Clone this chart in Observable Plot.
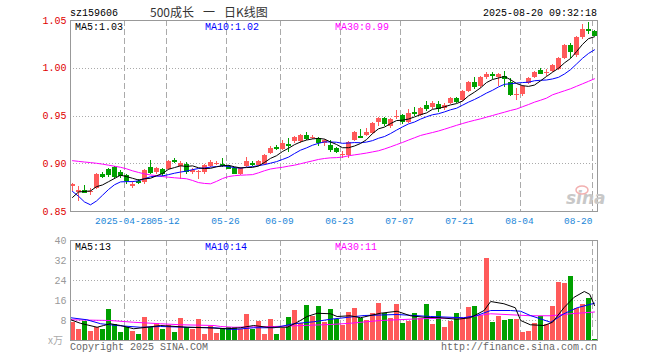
<!DOCTYPE html>
<html><head><meta charset="utf-8">
<script src="https://cdn.jsdelivr.net/npm/d3@7"></script>
<script src="https://cdn.jsdelivr.net/npm/@observablehq/plot@0.6"></script>
<style>
html,body{margin:0;padding:0;background:#fff;}
#wrap{position:relative;width:660px;height:360px;overflow:hidden;}
#wrap svg{position:absolute;left:0;}
</style></head><body><div id="wrap"></div>
<script>
// ---- data ----
const dates = ["2025-04-15","2025-04-16","2025-04-17","2025-04-18","2025-04-21","2025-04-22","2025-04-23","2025-04-24","2025-04-25","2025-04-28","2025-04-29","2025-04-30",
"2025-05-06","2025-05-07","2025-05-08","2025-05-09","2025-05-12","2025-05-13","2025-05-14","2025-05-15","2025-05-16","2025-05-19","2025-05-20","2025-05-21","2025-05-22","2025-05-23","2025-05-26","2025-05-27","2025-05-28","2025-05-29","2025-05-30",
"2025-06-03","2025-06-04","2025-06-05","2025-06-06","2025-06-09","2025-06-10","2025-06-11","2025-06-12","2025-06-13","2025-06-16","2025-06-17","2025-06-18","2025-06-19","2025-06-20","2025-06-23","2025-06-24","2025-06-25","2025-06-26","2025-06-27","2025-06-30",
"2025-07-01","2025-07-02","2025-07-03","2025-07-04","2025-07-07","2025-07-08","2025-07-09","2025-07-10","2025-07-11","2025-07-14","2025-07-15","2025-07-16","2025-07-17","2025-07-18","2025-07-21","2025-07-22","2025-07-23","2025-07-24","2025-07-25","2025-07-28","2025-07-29","2025-07-30","2025-07-31",
"2025-08-01","2025-08-04","2025-08-05","2025-08-06","2025-08-07","2025-08-08","2025-08-11","2025-08-12","2025-08-13","2025-08-14","2025-08-15","2025-08-18","2025-08-19","2025-08-20"];
const open = [.876,.870,.872,.870,.874,.889,.894,.896,.891,.888,.876,.881,.880,.896,.891,.894,.894,.903,.897,.899,.891,.891,.891,.897,.899,.899,.897,.895,.889,.897,.900,.898,.899,.911,.917,.915,.920,.923,.923,.930,.926,.926,.921,.919,.916,.909,.909,.924,.929,.930,.932,.943,.947,.939,.948,.951,.943,.954,.951,.961,.959,.962,.958,.963,.968,.966,.976,.985,.981,.990,.993,.990,.991,.985,.972,.972,.984,.990,.998,.995,.997,.999,1.010,1.024,1.013,1.032,1.041,1.039];
const high = [.879,.876,.877,.874,.890,.891,.895,.897,.893,.889,.881,.883,.894,.903,.896,.895,.903,.905,.902,.901,.895,.893,.899,.903,.902,.905,.898,.896,.896,.907,.902,.903,.910,.918,.919,.924,.926,.929,.931,.933,.930,.927,.925,.924,.917,.913,.923,.934,.936,.937,.943,.948,.948,.947,.956,.952,.957,.959,.959,.965,.965,.965,.963,.969,.969,.977,.986,.990,.991,.996,.996,.994,.997,.989,.979,.982,.990,.997,1.000,.999,1.004,1.011,1.025,1.026,1.033,1.046,1.048,1.040];
const low = [.871,.860,.869,.867,.873,.885,.886,.884,.885,.878,.874,.878,.878,.889,.889,.887,.893,.900,.884,.889,.889,.884,.889,.896,.898,.896,.894,.889,.888,.896,.897,.897,.898,.910,.914,.914,.912,.921,.921,.924,.925,.918,.918,.912,.911,.905,.906,.923,.927,.929,.931,.939,.939,.937,.946,.941,.942,.949,.950,.955,.957,.954,.956,.962,.963,.965,.975,.978,.979,.988,.988,.981,.980,.970,.966,.970,.983,.989,.993,.991,.996,.998,1.009,1.010,1.011,1.030,1.035,1.033];
const close = [.878,.872,.870,.871,.889,.887,.889,.887,.888,.882,.878,.880,.893,.891,.895,.890,.902,.902,.900,.892,.893,.892,.898,.901,.900,.898,.895,.890,.895,.902,.899,.902,.909,.916,.916,.921,.919,.928,.930,.926,.927,.922,.924,.915,.913,.910,.922,.933,.928,.933,.942,.947,.942,.946,.949,.944,.953,.953,.958,.958,.963,.958,.961,.968,.965,.976,.985,.981,.990,.993,.992,.993,.989,.973,.973,.981,.989,.996,.995,.996,1.003,1.010,1.024,1.018,1.032,1.041,1.040,1.034];
const ma5 = [.8647,.8704,.8710,.8715,.8760,.8778,.8812,.8846,.8880,.8866,.8848,.8830,.8842,.8848,.8874,.8898,.8942,.8960,.8978,.8972,.8978,.8958,.8950,.8952,.8968,.8978,.8984,.8968,.8956,.8960,.8962,.8976,.9014,.9056,.9084,.9128,.9162,.9200,.9228,.9248,.9260,.9266,.9258,.9228,.9202,.9168,.9168,.9186,.9212,.9252,.9316,.9366,.9384,.9420,.9452,.9456,.9468,.9490,.9514,.9532,.9570,.9580,.9596,.9616,.9630,.9656,.9710,.9750,.9794,.9850,.9882,.9898,.9914,.9880,.9840,.9818,.9810,.9824,.9868,.9914,.9958,1.0000,1.0056,1.0102,1.0174,1.0250,1.0310,1.0330];
const ma10 = [.871,.866,.860,.857,.861,.867,.873,.878,.881,.8813,.8813,.8821,.8844,.8864,.8870,.8873,.8886,.8901,.8913,.8923,.8938,.8950,.8955,.8965,.8970,.8978,.8971,.8959,.8954,.8964,.8970,.8980,.8991,.9006,.9022,.9045,.9069,.9107,.9142,.9166,.9194,.9214,.9229,.9228,.9225,.9214,.9217,.9222,.9220,.9227,.9242,.9267,.9285,.9316,.9352,.9386,.9417,.9437,.9467,.9492,.9513,.9524,.9543,.9565,.9581,.9613,.9645,.9673,.9705,.9740,.9769,.9804,.9832,.9837,.9845,.9850,.9854,.9869,.9874,.9877,.9888,.9905,.9940,.9985,1.0044,1.0104,1.0155,1.0193];
const ma30 = [.9032,.9025,.9018,.9012,.9005,.8996,.8985,.8974,.8963,.8947,.8926,.8909,.8894,.8883,.8875,.8866,.8859,.8853,.8848,.8843,.8825,.8803,.8794,.8790,.8815,.8845,.8866,.8875,.8880,.8883,.8886,.8905,.8927,.8945,.8955,.8963,.8975,.8985,.9000,.9015,.9030,.9045,.9055,.9062,.9064,.9070,.9083,.9093,.9102,.9112,.9124,.9136,.9155,.9177,.9200,.9223,.9248,.9272,.9296,.9312,.9327,.9343,.9362,.9382,.9402,.9421,.9439,.9455,.9470,.9488,.9505,.9523,.9540,.9558,.9573,.9597,.9620,.9645,.9665,.9687,.9722,.9743,.9764,.9785,.9811,.9837,.9863,.9890];
// volume, in units of 10k
const volume = [7.3,4.3,7.7,3.7,5.3,4.5,12.5,6.4,3.2,5.3,3.7,2.4,9.3,5.3,6.9,4.5,6.1,3.2,8.8,5.3,4.5,8.3,2.4,5.6,2.9,4.5,5.1,5.1,4.3,10.5,4.5,7.7,2.5,8.5,2.5,4.8,9.3,12.1,6.9,14.1,9.7,13.7,7.3,12.5,8.5,6.1,11.2,12.8,8.8,8.0,10.9,14.9,10.7,8.8,14.4,6.9,7.7,10.7,8.8,14.4,6.4,11.7,5.3,7.7,10.9,8.8,13.3,13.6,9.9,32.8,7.2,9.6,8.0,8.3,8.5,3.2,3.7,6.7,9.6,6.4,13.6,23.2,22.9,25.6,12.8,14.4,16.8,0.5];
// volume moving averages, read at positions (candle index) along the lines
const vma5x = [-0.3,1.3,4.1,5.2,6.3,8,10.2,12.4,14.7,19.1,22.4,25.8,28,30.2,32.4,35.8,37.4,39.1,40.8,43,44.1,46.3,48,51.3,54.1,56.3,58.6,61.3,64.1,66.3,68.6,69.7,71.9,73.8,74.7,76.3,78.6,80,81.9,83.6,85.3,86.2,87];
const vma5y = [8.3,6.9,5.3,6.0,6.7,6.0,4.7,5.3,6.0,5.3,5.1,4.7,5.1,6.0,5.3,5.3,7.2,9.6,10.9,10.7,9.6,9.9,9.1,10.9,11.7,9.9,9.3,9.1,8.5,9.1,12.0,15.6,14.7,13.1,8.0,6.3,6.0,7.3,13.1,17.3,19.6,18.5,14.0];
const vma10x = [-0.3,2.4,4.7,7.4,11.3,14.7,19.1,23.6,26.9,30.2,33.6,36.9,40.2,43,48.6,54.1,59.7,65.2,67.4,69.7,73,74.7,76.3,79.7,81.9,84.1,87];
const vma10y = [9.1,8.3,6.7,6.0,5.3,5.6,5.3,5.1,4.4,5.1,5.1,6.7,7.5,8.5,10.0,10.4,9.6,9.1,10.0,12.0,12.0,11.7,10.0,7.3,10.7,13.1,14.9];
const vma30x = [-0.3,6.3,10.2,14.7,18,23.6,24.7,26.9,33.6,43,46.3,51.3,58,65.2,69.7,76.3,79.7,83,87];
const vma30y = [8.3,8.0,7.3,6.7,6.3,6.0,5.6,5.3,5.6,6.4,6.9,8.0,8.7,9.1,10.7,9.9,9.9,10.7,11.4];
const tickIdx = [9,16,26,35,45,55,65,75,87];
const tickLabels = ["2025-04-28","05-12","05-26","06-09","06-23","07-07","07-21","08-04","08-20"];
const priceTicks = [0.85,0.90,0.95,1.00,1.05];
const volTicks = [8,16,24,32,40];
const lastVolMA = {ma5:13, ma10:14, ma30:11};

// ---- build ----
const RED = "#ff5a5a", GREEN = "#00a000", BLUE = "#0000ff", MAG = "#ff00ff", GRID = "#aaaaaa", FRAME = "#999999";
const MONO = "'Liberation Mono','DejaVu Sans Mono',monospace";
const rows = dates.map((d, i) => ({i, date: d, o: open[i], h: high[i], l: low[i], c: close[i], v: volume[i], col: close[i] >= open[i] ? RED : GREEN}));
const hw = 2.5 / 6;
const xOpt = {type: "linear", domain: [-1/3, 87.5], axis: null};
const gridX = tickIdx.map(i => i - 1/3);
const crisp = {shapeRendering: "crispEdges"};
const pts = (xs, ys) => xs.map((x, k) => ({x, y: ys[k]}));
const lastT = tickIdx.length - 1;

const main = Plot.plot({
  width: 660, height: 230, marginTop: 20, marginBottom: 19, marginLeft: 70, marginRight: 63,
  style: {fontFamily: MONO, fontSize: "10px", background: "transparent", overflow: "visible"},
  x: xOpt,
  y: {domain: [0.85, 1.05], ticks: priceTicks, tickFormat: d3.format(".2f"), tickSize: 0, tickPadding: 4, label: null},
  color: {type: "identity"},
  marks: [
    Plot.ruleY([0.90, 0.95, 1.00], {stroke: GRID, strokeDasharray: "1,2", ...crisp}),
    Plot.ruleX(gridX, {stroke: GRID, strokeDasharray: "6,3", ...crisp}),
    Plot.axisY({ticks: priceTicks, tickFormat: d3.format(".2f"), tickSize: 0, tickPadding: 4, fill: "#e00000", label: null}),
    Plot.text(tickIdx.slice(0, lastT), {x: d => d - 1/3, text: (d, k) => tickLabels[k], frameAnchor: "bottom", lineAnchor: "top", dy: 6, dx: -1, fontSize: 9.5, fill: "#1a86d8"}),
    Plot.text([tickIdx[lastT]], {x: d => d, text: () => tickLabels[lastT], frameAnchor: "bottom", lineAnchor: "top", dy: 6, dx: -2, fontSize: 9.5, textAnchor: "end", fill: "#1a86d8"}),
    Plot.ruleX(rows, {x: "i", y1: "l", y2: "h", stroke: "col", ...crisp}),
    Plot.rect(rows, {x1: d => d.i - hw, x2: d => d.i + hw, y1: "o", y2: "c", fill: "col", ...crisp}),
    Plot.ruleY(rows, {y: "c", x1: d => d.i - hw, x2: d => d.i + hw, stroke: "col", ...crisp}),
    Plot.line(rows, {x: "i", y: d => ma30[d.i], stroke: MAG, strokeWidth: 1}),
    Plot.line(rows, {x: "i", y: d => ma10[d.i], stroke: BLUE, strokeWidth: 1}),
    Plot.line(rows, {x: "i", y: d => ma5[d.i], stroke: "#000", strokeWidth: 1}),
    Plot.frame({stroke: FRAME, ...crisp})
  ]
});
main.style.top = "0px";

const vol = Plot.plot({
  width: 660, height: 120, marginTop: 10, marginBottom: 10, marginLeft: 70, marginRight: 63,
  style: {fontFamily: MONO, fontSize: "10px", background: "transparent", overflow: "visible"},
  x: xOpt,
  y: {domain: [0, 40], axis: null},
  color: {type: "identity"},
  marks: [
    Plot.ruleY([8, 16, 24, 32], {stroke: GRID, strokeDasharray: "1,2", ...crisp}),
    Plot.ruleX(gridX, {stroke: GRID, strokeDasharray: "6,3", ...crisp}),
    Plot.axisY({ticks: volTicks, tickSize: 0, tickPadding: 4, fill: "#999", label: null}),
    Plot.rect(rows, {x1: d => d.i - hw, x2: d => d.i + hw, y1: 0, y2: "v", fill: "col", ...crisp}),
    Plot.line(pts(vma30x, vma30y), {x: "x", y: "y", stroke: MAG, strokeWidth: 1}),
    Plot.line(pts(vma10x, vma10y), {x: "x", y: "y", stroke: BLUE, strokeWidth: 1}),
    Plot.line(pts(vma5x, vma5y), {x: "x", y: "y", stroke: "#000", strokeWidth: 1}),
    Plot.frame({stroke: FRAME, ...crisp})
  ]
});
vol.style.top = "230px";

const wrap = document.getElementById("wrap");
wrap.appendChild(main);
wrap.appendChild(vol);

// ---- overlay texts ----
const ov = d3.select(wrap).append("svg").attr("width", 660).attr("height", 360).style("top", "0px")
  .attr("font-family", MONO).attr("font-size", 10);
const T = (x, y, s, fill, extra = {}) => {
  const t = ov.append("text").attr("x", x).attr("y", y).attr("fill", fill).text(s);
  for (const k in extra) t.attr(k, extra[k]);
  return t;
};
const CJK = {"font-family": "'Noto Sans CJK SC',sans-serif", "font-size": 12};
T(70, 16, "sz159606", "#000");
T(150, 17, "500成长", "#333", CJK);
T(203, 17, "一", "#333", CJK);
T(224, 17, "日K线图", "#333", CJK);
T(597, 16, "2025-08-20 09:32:18", "#000", {"text-anchor": "end"});
T(75, 30, `MA5:${ma5[ma5.length - 1].toFixed(2)}`, "#000");
T(205, 30, `MA10:${ma10[ma10.length - 1].toFixed(2)}`, BLUE);
T(335, 30, `MA30:${ma30[ma30.length - 1].toFixed(2)}`, MAG);
T(75, 250, `MA5:${lastVolMA.ma5}`, "#000");
T(205, 250, `MA10:${lastVolMA.ma10}`, BLUE);
T(335, 250, `MA30:${lastVolMA.ma30}`, MAG);
T(70, 350, "Copyright 2025 SINA.COM", "#666");
T(597, 350, "http://finance.sina.com.cn", "#666", {"text-anchor": "end"});
T(48, 344, "x万", "#aaa", {"font-family": "'Noto Sans CJK SC',sans-serif", "font-size": 10});
T(566, 204, "sina", "#c8c8c8", {"font-family": "'DejaVu Sans',sans-serif", "font-size": 17, "font-weight": "bold", "font-style": "italic"});
ov.append("ellipse").attr("cx", 582).attr("cy", 190).attr("rx", 6).attr("ry", 4).attr("fill", "none").attr("stroke", "#f2b0b0").attr("stroke-width", 1.5);
</script></body></html>
